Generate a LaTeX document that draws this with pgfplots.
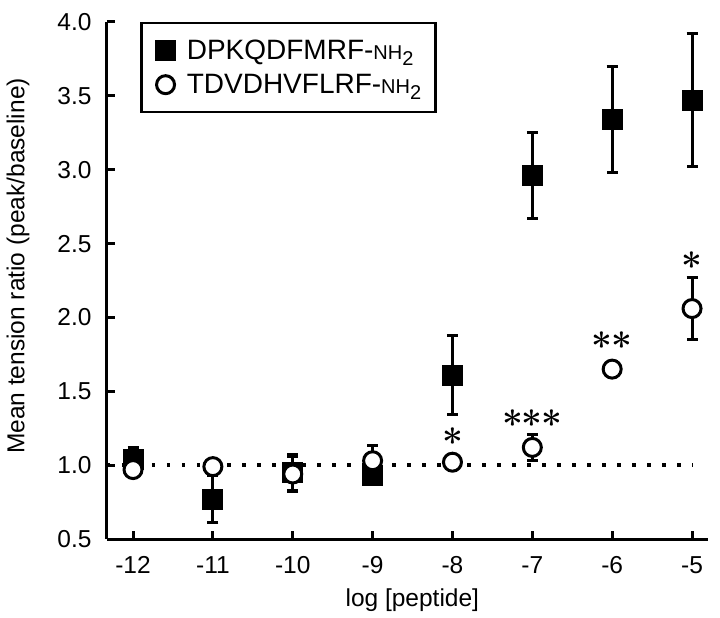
\documentclass[border=0pt]{standalone}
\usepackage{fontspec}
\setmainfont{Liberation Sans}
\newfontfamily\lmfont{Latin Modern Roman}
\usepackage{pgfplots}
\pgfplotsset{compat=1.18}
\newcommand{\st}{{\lmfont\bfseries\fontsize{37}{40}\selectfont *}}
\begin{document}
\begin{tikzpicture}
\begin{axis}[
  scale only axis, width=601pt, height=517pt,
  xmin=-12.326, xmax=-4.80, ymin=0.5, ymax=4.0,
  axis lines=left, axis line style={-, line width=3pt},
  xtick={-12,-11,-10,-9,-8,-7,-6,-5},
  ytick={0.5,1.0,1.5,2.0,2.5,3.0,3.5,4.0},
  yticklabel style={/pgf/number format/fixed, /pgf/number format/fixed zerofill, /pgf/number format/precision=1, xshift=-12pt},
  /pgf/number format/assume math mode=true,
  tick align=inside, major tick length=8pt,
  every tick/.style={line width=3pt, black},
  ticklabel style={font=\fontsize{24.5}{28}\selectfont},
  xticklabel style={yshift=-14pt},
  xlabel={log [peptide]}, ylabel={Mean tension ratio (peak/baseline)},
  every axis y label/.style={at={(axis description cs:-0.148,0.528)}, rotate=90, anchor=center, font=\fontsize{24.5}{28}\selectfont},
  every axis x label/.style={at={(axis description cs:0.508,-0.118)}, anchor=center, font=\fontsize{24.5}{28}\selectfont},
  clip=false,
  legend style={at={(axis description cs:0.055,1)}, anchor=north west, draw=black, line width=2.5pt,
    font=\fontsize{28}{30}\selectfont, inner xsep=6pt, inner ysep=15pt, row sep=9pt,
    /tikz/every odd column/.append style={column sep=5pt}},
  legend image code/.code={\path (0pt,0pt) (30pt,0pt); \draw[mark repeat=2,mark phase=2,#1] plot coordinates {(0pt,0pt) (17pt,0pt) (30pt,0pt)};},
  legend cell align=left,
]
\addplot[black, line width=3.5pt, dash pattern=on 3.5pt off 11.5pt, forget plot] coordinates {(-12.326,1.0) (-5,1.0)};
\addplot[only marks, mark=square*, mark size=10pt, mark options={fill=black, draw=black, line width=0pt},
  error bars/.cd, y dir=both, y explicit, error mark=|, error mark options={mark size=5.5pt, line width=3pt, black},
  error bar style={line width=3pt, black}]
  coordinates {
  (-12,1.04) +- (0,0.08)
  (-11,0.77) +- (0,0.16)
  (-10,0.95) +- (0,0.12)
  (-9,0.93) +- (0,0.03)
  (-8,1.61) +- (0,0.27)
  (-7,2.96) +- (0,0.29)
  (-6,3.34) +- (0,0.36)
  (-5,3.47) +- (0,0.45)
  };
\addlegendentry{DPKQDFMRF-{\fontsize{20}{22}\selectfont NH\raisebox{-6pt}{2}}}
\addplot[only marks, mark=*, mark size=9pt, mark options={fill=white, draw=black, line width=3pt},
  error bars/.cd, y dir=both, y explicit, error mark=|, error mark options={mark size=5.5pt, line width=3pt, black},
  error bar style={line width=3pt, black}]
  coordinates {
  (-12,0.97) +- (0,0.03)
  (-11,0.99) +- (0,0.02)
  (-10,0.94) +- (0,0.12)
  (-9,1.03) +- (0,0.10)
  (-8,1.02) +- (0,0.01)
  (-7,1.12) +- (0,0.09)
  (-6,1.65) +- (0,0.05)
  (-5,2.06) +- (0,0.21)
  };
\addlegendentry{TDVDHVFLRF-{\fontsize{20}{22}\selectfont NH\raisebox{-6pt}{2}}\kern6pt}
\node[inner sep=0pt] at (axis cs:-8,1.16) {\st};
\node[inner sep=0pt] at (axis cs:-7,1.28) {\st\kern-1pt\st\kern-1pt\st};
\node[inner sep=0pt] at (axis cs:-6,1.81) {\st\kern-1pt\st};
\node[inner sep=0pt] at (axis cs:-5,2.35) {\st};
\end{axis}
\pgfresetboundingbox
\path (current axis.south west) ++(-107pt,-79pt) rectangle ++(720pt,618pt);
\end{tikzpicture}
\end{document}
